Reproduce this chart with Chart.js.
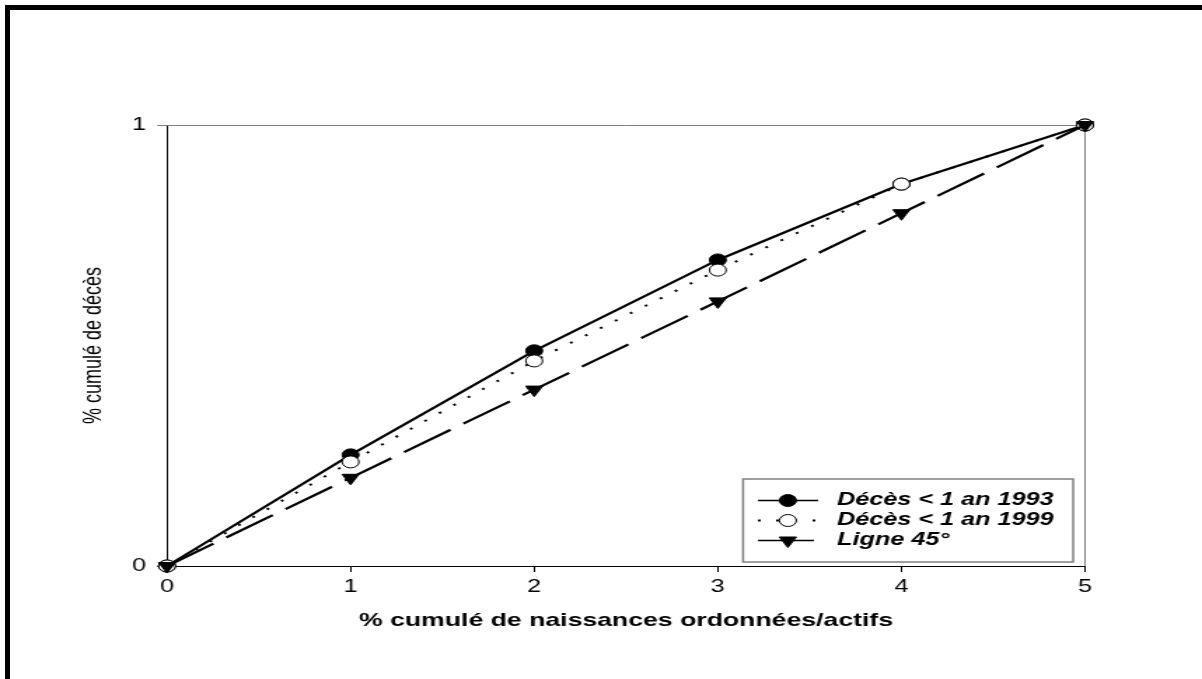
<!DOCTYPE html>
<html>
<head>
<meta charset="utf-8">
<title>% cumulé de décès</title>
<script src="https://cdn.jsdelivr.net/npm/chart.js@4.4.1/dist/chart.umd.min.js"></script>
<style>
  html, body { margin: 0; padding: 0; background: #fff; }
  body { width: 1202px; height: 679px; overflow: hidden; position: relative; }
  /* the original picture is stretched sideways, so the chart is drawn narrow and scaled */
  #wrap { position: absolute; left: 0; top: 0; width: 858px; height: 679px; transform-origin: 0 0; transform: scaleX(1.40093); }
  #frame { position: absolute; left: 5px; top: 5px; width: 1197px; height: 674px; box-sizing: border-box;
           border-left: 5px solid #000; border-top: 5px solid #000; pointer-events: none; }
</style>
</head>
<body>
<div id="wrap"><canvas id="chart"></canvas></div>
<div id="frame"></div>
<script>
const xTicks = [0, 1, 2, 3, 4, 5];
const yTicks = [0, 1];
const seriesLabels = ['Décès < 1 an 1993', 'Décès < 1 an 1999', 'Ligne 45°'];
const deces1993 = [0, 0.252, 0.488, 0.694, 0.866, 1];
const deces1999 = [0, 0.236, 0.465, 0.671, 0.866, 1];
const ligne45 = [0, 0.2, 0.4, 0.6, 0.8, 1];

const FONT = '"Liberation Sans", Arial, Helvetica, sans-serif';
const GRAY = '#808080';

const toPoints = (vals) => vals.map((v, i) => ({ x: xTicks[i], y: v }));

// gray top and right edges of the plot box
const frameLines = {
  id: 'frameLines',
  beforeDatasetsDraw(chart) {
    const { ctx, chartArea: a } = chart;
    ctx.save();
    ctx.strokeStyle = GRAY;
    ctx.lineWidth = 1;
    ctx.beginPath();
    ctx.moveTo(a.left, a.top + 0.5);
    ctx.lineTo(a.right, a.top + 0.5);
    ctx.moveTo(a.right, a.top);
    ctx.lineTo(a.right, a.bottom);
    ctx.stroke();
    ctx.restore();
  }
};

// legend box: line sample with marker in the middle
const boxLegend = {
  id: 'boxLegend',
  afterDatasetsDraw(chart) {
    const { ctx, chartArea: a } = chart;
    const w = 235.6, h = 83;
    const right = a.right - 8.5, bottom = a.bottom - 4;
    const left = right - w, top = bottom - h;
    ctx.save();
    ctx.fillStyle = '#fff';
    ctx.fillRect(left, top, w, h);
    ctx.strokeStyle = GRAY;
    ctx.lineWidth = 1.5;
    ctx.strokeRect(left, top, w, h);

    // legend rows in the order of the series, not the drawing order
    chart.data.datasets.forEach((ds, i) => {
      const y = top + 21.5 + i * 20;
      ctx.save();
      ctx.strokeStyle = ds.borderColor;
      ctx.lineWidth = ds.legendLineWidth || ds.borderWidth;
      ctx.setLineDash(ds.borderDash || []);
      ctx.beginPath();
      ctx.moveTo(left + 10.6, y);
      ctx.lineTo(left + 53.6, y);
      ctx.stroke();
      ctx.setLineDash([]);
      ctx.fillStyle = ds.pointBackgroundColor;
      ctx.strokeStyle = ds.pointBorderColor;
      ctx.lineWidth = ds.pointBorderWidth;
      Chart.helpers.drawPoint(ctx, {
        pointStyle: ds.pointStyle,
        rotation: ds.pointRotation || 0,
        radius: ds.pointRadius,
        borderWidth: ds.pointBorderWidth
      }, left + 32, y);
      ctx.restore();

      ctx.fillStyle = '#000';
      ctx.font = 'italic bold 18px ' + FONT;
      ctx.textBaseline = 'middle';
      ctx.textAlign = 'left';
      ctx.fillText(ds.label, left + 67, y);
    });
    ctx.restore();
  }
};

new Chart(document.getElementById('chart'), {
  type: 'line',
  data: {
    datasets: [
      {
        label: seriesLabels[0],
        data: toPoints(deces1993),
        order: 3,
        borderColor: '#000',
        borderWidth: 2.2,
        legendLineWidth: 1.6,
        pointStyle: 'circle',
        pointRadius: 6,
        pointBackgroundColor: '#000',
        pointBorderColor: '#000',
        pointBorderWidth: 1,
        clip: false
      },
      {
        label: seriesLabels[1],
        data: toPoints(deces1999),
        order: 2,
        borderColor: '#000',
        borderWidth: 2,
        borderDash: [2, 11],
        pointStyle: 'circle',
        pointRadius: 6,
        pointBackgroundColor: '#fff',
        pointBorderColor: '#000',
        pointBorderWidth: 1,
        clip: false
      },
      {
        label: seriesLabels[2],
        data: toPoints(ligne45),
        order: 1,
        borderColor: '#000',
        borderWidth: 2.2,
        legendLineWidth: 1.6,
        borderDash: [40, 11],
        pointStyle: 'triangle',
        pointRotation: 180,
        pointRadius: 7,
        pointBackgroundColor: '#000',
        pointBorderColor: '#000',
        pointBorderWidth: 1,
        clip: false
      }
    ]
  },
  options: {
    responsive: true,
    maintainAspectRatio: false,
    animation: false,
    events: [],
    layout: { padding: { top: 125, right: 83.5, bottom: 0, left: 0 } },
    elements: { line: { tension: 0, fill: false } },
    plugins: { legend: { display: false }, tooltip: { enabled: false } },
    scales: {
      x: {
        type: 'linear',
        min: xTicks[0],
        max: xTicks[xTicks.length - 1],
        afterBuildTicks: (s) => { s.ticks = xTicks.map(v => ({ value: v })); },
        afterFit: (s) => { s.height = 113; },
        grid: { drawOnChartArea: false, drawTicks: true, tickLength: 6, color: '#000', lineWidth: 1 },
        border: { display: true, color: '#000', width: 1 },
        ticks: { color: '#000', padding: 4.5, maxRotation: 0, font: { family: FONT, size: 18 } },
        title: {
          display: true,
          text: '% cumulé de naissances ordonnées/actifs',
          color: '#000',
          font: { family: FONT, size: 19, weight: 'bold' },
          padding: { top: 0, bottom: 47 }
        }
      },
      y: {
        type: 'linear',
        min: yTicks[0],
        max: yTicks[yTicks.length - 1],
        afterBuildTicks: (s) => { s.ticks = yTicks.map(v => ({ value: v })); },
        afterFit: (s) => { s.width = 119.2; },
        grid: {
          drawOnChartArea: false, drawTicks: true, tickLength: 7, lineWidth: 1,
          color: (c) => (c.tick && c.tick.value === 1 ? GRAY : '#000')
        },
        border: { display: true, color: '#000', width: 1 },
        ticks: { color: '#000', padding: 8, font: { family: FONT, size: 18 } },
        title: {
          display: true,
          text: '% cumulé de décès',
          color: '#000',
          font: { family: FONT, size: 18 },
          padding: { top: 56, bottom: 0 }
        }
      }
    }
  },
  plugins: [frameLines, boxLegend]
});
</script>
</body>
</html>
